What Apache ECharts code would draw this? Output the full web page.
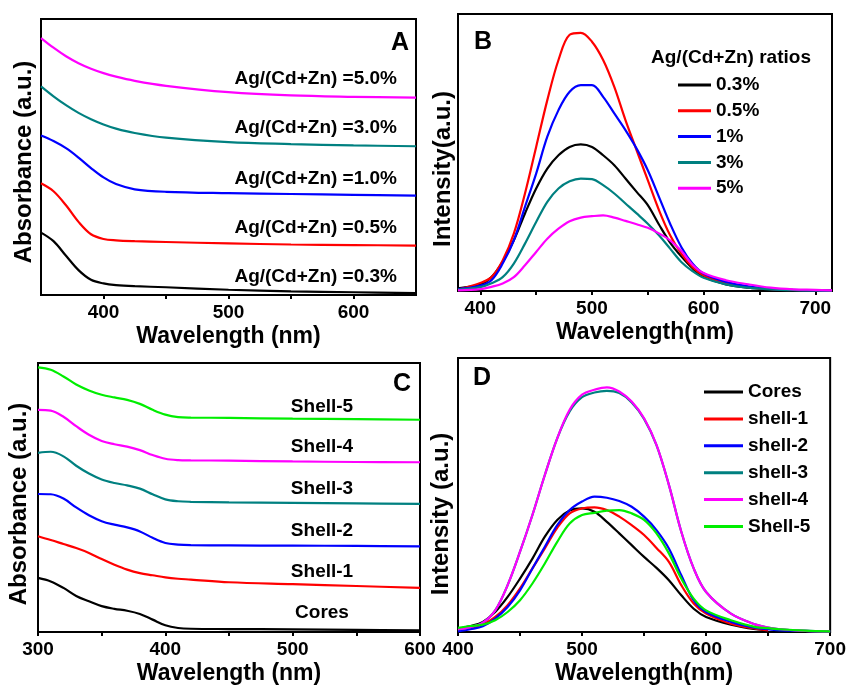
<!DOCTYPE html>
<html><head><meta charset="utf-8">
<script src="https://cdn.jsdelivr.net/npm/echarts@6/dist/echarts.min.js"></script>
<style>html,body{margin:0;padding:0;background:#fff}#c{width:849px;height:690px}</style>
</head><body><div id="c"></div>
<script>
// ---------- Panel A: absorbance vs Ag ratio (offset, a.u.) ----------
const wlA = [350,360,370,380,390,400,410,425,450,500,550,600,650];
const absA_03 = [22.6,19.5,14.2,9.0,5.5,4.2,3.6,3.2,2.8,1.9,1.3,1.0,0.7];
const absA_05 = [40.5,37.6,32.5,26.5,22.0,20.3,19.8,19.5,19.2,18.7,18.3,18.1,17.9];
const absA_10 = [57.8,55.8,53.2,49.8,46.0,42.6,40.2,38.3,37.4,36.9,36.6,36.3,36.0];
const absA_30 = [75.6,72.0,68.8,66.0,63.7,61.8,60.3,58.7,57.0,55.4,54.7,54.2,53.9];
const absA_50 = [93.1,89.6,86.5,84.0,82.0,80.4,79.1,77.6,75.8,73.5,72.3,71.8,71.5];
const labelsA = ['Ag/(Cd+Zn) =0.3%','Ag/(Cd+Zn) =0.5%','Ag/(Cd+Zn) =1.0%','Ag/(Cd+Zn) =3.0%','Ag/(Cd+Zn) =5.0%'];

// ---------- Panel B: PL vs Ag ratio ----------
const wlB = [380,400,410,420,430,440,450,460,470,480,490,500,510,520,530,540,550,560,570,580,590,600,620,640,660,680,700,715];
const plB_03 = [1,2.4,5,10.5,18.3,28,37,44.2,49,52,52.9,52,49,45.4,40.6,35.8,31,24,17.5,12.5,8.2,5.1,2.4,1.2,0.6,0.3,0.2,0.1];
const plB_05 = [0.5,2.9,5,11,20.7,35.2,52,68.9,83.4,92.5,93.2,90,83.4,73.7,61.7,50.8,40,29.2,20.1,13.5,8.7,5.7,2.9,1.4,0.7,0.4,0.2,0.1];
const plB_1  = [0.7,2,3.9,9.9,18.3,30.4,42.4,55.7,65.3,71.9,74.3,74.3,70.1,64.1,58.1,51.4,43.6,34,24.3,15.9,9.9,6.3,3.3,1.7,0.8,0.4,0.2,0.1];
const plB_3  = [0.5,1.4,2.8,5,9.9,17.1,24.9,32.2,37,39.6,40.6,40.4,38.2,35.2,31.6,28,24.3,20.1,15.3,10.5,7.2,4.8,2.4,1.2,0.6,0.3,0.2,0.1];
const plB_5  = [0.2,0.7,1.5,2.7,5,9.3,14.1,18.9,22.5,25.2,26.5,27,27.3,26.5,25.3,24.1,22.8,20.8,18.3,14.5,9.5,6.5,3.9,2.4,1.2,0.6,0.4,0.2];
const namesB = ['0.3%','0.5%','1%','3%','5%'];

// ---------- Panel C: absorbance of core/shells ----------
const wlC = [300,310,320,330,340,350,360,370,380,390,400,410,420,450,500,550,600];
const absC_core = [20.1,18.8,16.4,13.4,11.4,9.6,8.6,7.9,6.7,4.6,2.5,1.5,1.2,1.1,1.0,0.8,0.6];
const absC_s1 = [35.6,34.2,32.7,31.2,29.4,27.1,25.0,23.2,21.9,21.1,20.3,19.8,19.5,18.5,17.8,17.1,16.4];
const absC_s2 = [51.3,51.2,49.6,46.3,43.4,41.2,39.9,38.9,37.4,35.0,33.1,32.5,32.3,32.2,32.1,32.0,31.8];
const absC_s3 = [66.6,67.0,65.3,61.8,58.9,56.7,55.4,54.5,53.3,51.2,49.3,48.6,48.4,48.2,48.0,47.8,47.6];
const absC_s4 = [82.6,82.3,80.0,76.5,73.3,71.0,69.8,68.9,67.6,65.8,64.4,63.9,63.8,63.7,63.4,63.2,63.1];
const absC_s5 = [98.4,97.5,95.0,92.0,89.8,88.2,87.2,86.3,84.8,82.6,80.8,79.9,79.7,79.6,79.3,79.1,78.9];
const labelsC = ['Cores','Shell-1','Shell-2','Shell-3','Shell-4','Shell-5'];

// ---------- Panel D: PL of core/shells ----------
const wlD = [400,410,420,430,440,450,460,470,480,490,500,510,520,530,540,550,560,570,580,590,600,620,640,650,660,680,700];
const plD_core = [1.2,2.2,3.7,7.3,12.8,19.5,26.8,34.8,40.9,44.3,45.1,43.9,40.2,36,31.7,27.4,23.4,18.9,13.4,8.5,5.5,2.7,1,0.6,null,null,null];
const plD_s1 = [0.6,1.5,2.7,5.5,9.8,15.9,23.2,30.5,38,43.3,45.1,45.5,44.5,42.1,39,35.4,30.7,25.6,17.1,10.4,6.7,3,1.2,0.6,null,null,null];
const plD_s2 = [0.2,1,2.1,4.9,9.1,15.2,23.2,31.1,39,44.5,47.6,49.4,49,47.8,45.7,42.1,37.2,30.5,20.7,11.6,7.3,3.7,1.5,1,0.6,0.4,0.2];
const plD_s3 = [1,1.8,3.4,7.9,17.1,29.3,42.7,57.3,70.7,80.5,85.7,87.4,88,87.2,83.8,77.8,68.2,53.7,36.6,23.2,14.6,6.7,2.7,1.6,1,0.4,0.2];
const plD_s4 = [1,1.8,3.4,7.9,17.1,29.3,42.7,57.3,70.7,81.1,86.6,88.4,89.3,87.8,84.1,78,68.3,53.7,36.6,23.2,14.6,6.7,2.7,1.6,1,0.4,0.2];
const plD_s5 = [1.5,2.2,2.7,4.3,7.3,11.6,17.7,25,32.9,39.6,42.7,43.5,44.3,44.5,43.3,40.9,36,28.7,19.5,12.2,7.9,4.3,1.8,1.4,1,0.5,0.2];
const namesD = ['Cores','shell-1','shell-2','shell-3','shell-4','Shell-5'];

// tick values
const ticksA = [400,450,500,550,600], tickLabelsA = [400,500,600];
const ticksB = [400,450,500,550,600,650,700], tickLabelsB = [400,500,600,700];
const ticksC = [300,350,400,450,500,550,600], tickLabelsC = [300,400,500,600];
const ticksD = [400,450,500,550,600,650,700], tickLabelsD = [400,500,600,700];

const colors5 = ['#000000','#ff0000','#0000ff','#008080','#ff00ff'];
const colors6 = ['#000000','#ff0000','#0000ff','#008080','#ff00ff','#00ee00'];

const FONT = "'Liberation Sans', Arial, sans-serif";
const pairs = (xs, ys) => xs.map((x, i) => [x, ys[i]]);

const grids = [
  {left: 41, top: 19, width: 375, height: 276},
  {left: 458, top: 14, width: 374, height: 277},
  {left: 38, top: 363, width: 382, height: 269},
  {left: 458, top: 358, width: 376, height: 274}
].map(g => Object.assign(g, {show: true, borderColor: '#000', borderWidth: 2, containLabel: false}));

function xAxis(idx, min, max, ticks, labels, name) {
  return {
    type: 'value', gridIndex: idx, min: min, max: max,
    name: name, nameLocation: 'middle', nameGap: 30,
    nameTextStyle: {fontFamily: FONT, fontWeight: 'bold', fontSize: 23, color: '#000'},
    axisLine: {show: true, lineStyle: {color: '#000', width: 2}},
    axisTick: {show: true, length: 4, lineStyle: {color: '#000', width: 2}, customValues: ticks},
    axisLabel: {show: true, margin: 8, customValues: labels, fontFamily: FONT, fontWeight: 'bold', fontSize: 19, color: '#000'},
    splitLine: {show: false}
  };
}
function yAxis(idx) {
  return {
    type: 'value', gridIndex: idx, min: 0, max: 100,
    axisLine: {show: true, lineStyle: {color: '#000', width: 2}},
    axisTick: {show: false}, axisLabel: {show: false}, splitLine: {show: false}
  };
}
function line(name, idx, xs, ys, color) {
  return {
    type: 'line', name: name, xAxisIndex: idx, yAxisIndex: idx,
    data: pairs(xs, ys), showSymbol: false, symbol: 'none', smooth: 0.35,
    connectNulls: false,
    lineStyle: {color: color, width: 2.2}, itemStyle: {color: color}, z: 3
  };
}

const series = [];
[absA_03, absA_05, absA_10, absA_30, absA_50].forEach((d, i) => series.push(line('A ' + labelsA[i], 0, wlA, d, colors5[i])));
[plB_03, plB_05, plB_1, plB_3, plB_5].forEach((d, i) => series.push(line(namesB[i], 1, wlB, d, colors5[i])));
[absC_core, absC_s1, absC_s2, absC_s3, absC_s4, absC_s5].forEach((d, i) => series.push(line('C ' + labelsC[i], 2, wlC, d, colors6[i])));
[plD_core, plD_s1, plD_s2, plD_s3, plD_s4, plD_s5].forEach((d, i) => series.push(line(namesD[i], 3, wlD, d, colors6[i])));

function txt(text, x, y, opts) {
  return Object.assign({
    type: 'text', x: x, y: y, z: 10,
    style: Object.assign({text: text, fontFamily: FONT, fontWeight: 'bold', fontSize: 19, fill: '#000',
      textAlign: 'center', textVerticalAlign: 'middle'}, (opts && opts.style) || {})
  }, (opts && opts.extra) || {});
}

const graphics = [];
// panel A labels (bottom to top)
[277, 228, 179, 128, 79].forEach((y, i) => graphics.push(txt(labelsA[i], 397, y, {style: {textAlign: 'right'}})));
// panel C labels (bottom to top)
[613, 572, 531, 489, 447, 407].forEach((y, i) => graphics.push(txt(labelsC[i], 322, y)));
// panel letters
graphics.push(txt('A', 400, 43, {style: {fontSize: 25}}));
graphics.push(txt('B', 483, 42, {style: {fontSize: 25}}));
graphics.push(txt('C', 402, 384, {style: {fontSize: 25}}));
graphics.push(txt('D', 482, 378, {style: {fontSize: 25}}));
// legend title B
graphics.push(txt('Ag/(Cd+Zn) ratios', 731, 58));
// y axis titles
graphics.push(txt('Absorbance (a.u.)', 24, 162, {style: {fontSize: 24}, extra: {rotation: Math.PI / 2}}));
graphics.push(txt('Intensity(a.u.)', 443, 169, {style: {fontSize: 24}, extra: {rotation: Math.PI / 2}}));
graphics.push(txt('Absorbance (a.u.)', 19, 504, {style: {fontSize: 24}, extra: {rotation: Math.PI / 2}}));
graphics.push(txt('Intensity (a.u.)', 441, 514, {style: {fontSize: 24}, extra: {rotation: Math.PI / 2}}));

const legendText = {fontFamily: FONT, fontWeight: 'bold', fontSize: 19, color: '#000', lineHeight: 20};
const option = {
  animation: false,
  backgroundColor: '#fff',
  grid: grids,
  xAxis: [
    xAxis(0, 350, 650, ticksA, tickLabelsA, 'Wavelength (nm)'),
    xAxis(1, 380, 715, ticksB, tickLabelsB, 'Wavelength(nm)'),
    xAxis(2, 300, 600, ticksC, tickLabelsC, 'Wavelength (nm)'),
    xAxis(3, 400, 700, ticksD, tickLabelsD, 'Wavelength(nm)')
  ],
  yAxis: [yAxis(0), yAxis(1), yAxis(2), yAxis(3)],
  legend: [
    {data: namesB, orient: 'vertical', left: 678, top: 75, padding: 0, itemGap: 5.8,
     itemWidth: 33, itemHeight: 3, icon: 'rect', textStyle: legendText, selectedMode: false},
    {data: namesD, orient: 'vertical', left: 704, top: 382, padding: 0, itemGap: 6.9,
     itemWidth: 39, itemHeight: 3, icon: 'rect', textStyle: legendText, selectedMode: false}
  ],
  graphic: graphics,
  series: series
};
const chart = echarts.init(document.getElementById('c'), null, {renderer: 'canvas'});
chart.setOption(option);
</script>
</body></html>
